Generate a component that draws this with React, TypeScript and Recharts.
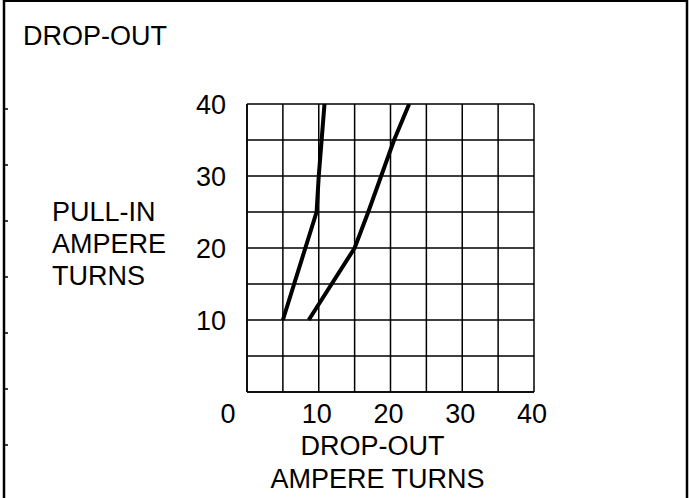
import React from 'react';
import { LineChart, Line, XAxis, YAxis, CartesianGrid, Customized } from 'recharts';

// Grid ticks every 5 units, labels every 10
const xTicks = [0, 5, 10, 15, 20, 25, 30, 35, 40];
const yTicks = [0, 5, 10, 15, 20, 25, 30, 35, 40];
const xLabels = [0, 10, 20, 30, 40];
const yLabels = [10, 20, 30, 40];

// Left curve (drop-out vs pull-in)
const leftCurve = [
  { x: 5, y: 10 },
  { x: 9.7, y: 25 },
  { x: 10, y: 30 },
  { x: 10.4, y: 35 },
  { x: 10.8, y: 40 },
];

// Right curve
const rightCurve = [
  { x: 8.6, y: 10 },
  { x: 15, y: 20 },
  { x: 16.9, y: 25 },
  { x: 18.7, y: 30 },
  { x: 20.5, y: 35 },
  { x: 22.6, y: 40 },
];

const title = 'DROP-OUT';
const xTitle = ['DROP-OUT', 'AMPERE TURNS'];
const yTitle = ['PULL-IN', 'AMPERE', 'TURNS'];
const frameTicks = [109, 165, 221, 277, 333, 389, 445];

const FONT = '"Liberation Sans", Arial, sans-serif';

const XTick = (props: any) => {
  const v = props.payload?.value;
  if (!xLabels.includes(v)) return <g />;
  const dx = v === 0 ? -19 : -2;
  return (
    <text x={props.x + dx} y={props.y + 31} textAnchor="middle" fontSize={27} fontFamily={FONT} fill="#000">
      {v}
    </text>
  );
};

const YTick = (props: any) => {
  const v = props.payload?.value;
  if (!yLabels.includes(v)) return <g />;
  return (
    <text x={props.x - 21} y={props.y + 9.5} textAnchor="end" fontSize={27} fontFamily={FONT} fill="#000">
      {v}
    </text>
  );
};

const Decor = () => (
  <g>
    {/* frame */}
    <line x1={3} y1={1} x2={688} y2={1} stroke="#000" strokeWidth={2} />
    <line x1={4} y1={0} x2={4} y2={498} stroke="#000" strokeWidth={2.5} />
    <line x1={687} y1={0} x2={687} y2={498} stroke="#000" strokeWidth={2.5} />
    {frameTicks.map((t) => (
      <line key={t} x1={4} y1={t} x2={8} y2={t} stroke="#000" strokeWidth={1.5} />
    ))}
    <text x={23} y={45} fontSize={27} fontFamily={FONT} fill="#000">{title}</text>
    {yTitle.map((s, i) => (
      <text key={s} x={52} y={221 + i * 32} fontSize={27} fontFamily={FONT} fill="#000">{s}</text>
    ))}
    {xTitle.map((s, i) => (
      <text key={s} x={i === 0 ? 372.5 : 377.5} y={455 + i * 33} textAnchor="middle" fontSize={27} fontFamily={FONT} fill="#000">{s}</text>
    ))}
  </g>
);

export default function App() {
  return (
    <div style={{ position: 'absolute', left: 0, top: 0, width: 689, height: 498, background: '#fff' }}>
      <LineChart width={689} height={498} margin={{ top: 104, right: 155, bottom: 0, left: 0 }}>
        <CartesianGrid stroke="#000" strokeWidth={1.5} strokeOpacity={1} />
        <XAxis
          type="number"
          dataKey="x"
          domain={[0, 40]}
          ticks={xTicks}
          interval={0}
          height={106}
          tickSize={0}
          tickMargin={0}
          tickLine={false}
          axisLine={{ stroke: '#000', strokeWidth: 1.5 }}
          tick={<XTick />}
          allowDataOverflow
        />
        <YAxis
          type="number"
          dataKey="y"
          domain={[0, 40]}
          ticks={yTicks}
          interval={0}
          width={247}
          tickSize={0}
          tickMargin={0}
          tickLine={false}
          axisLine={{ stroke: '#000', strokeWidth: 1.5 }}
          tick={<YTick />}
          allowDataOverflow
        />
        <Line data={leftCurve} dataKey="y" type="linear" stroke="#000" strokeWidth={4} strokeLinejoin="round" dot={false} isAnimationActive={false} />
        <Line data={rightCurve} dataKey="y" type="linear" stroke="#000" strokeWidth={4} strokeLinejoin="round" dot={false} isAnimationActive={false} />
        <Customized component={Decor} />
      </LineChart>
    </div>
  );
}
